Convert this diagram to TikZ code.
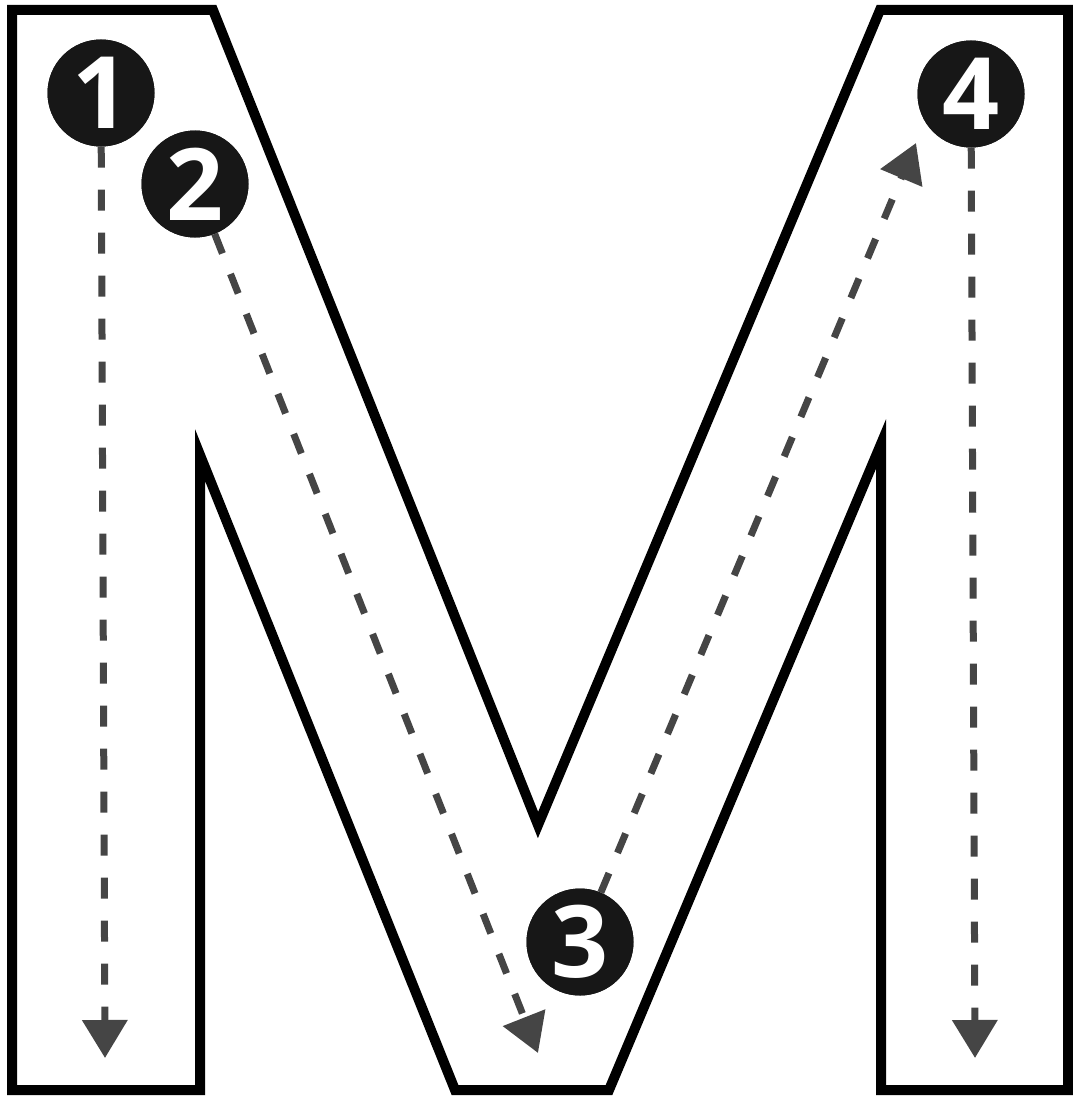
\documentclass[tikz,border=0pt]{standalone}
\usepackage{fontspec}
\newfontfamily\numfont{Open Sans}
\usetikzlibrary{arrows.meta}

\begin{document}
\begin{tikzpicture}[
    x=1pt, y=-1pt,
    letter/.style={line width=10pt, line join=miter, miter limit=10},
    badge/.style={circle, fill=black!91, minimum size=107pt, inner sep=0pt,
      text=white, font=\numfont\bfseries\fontsize{100}{100}\selectfont},
    route/.style={draw=black!73, line width=7pt, dash pattern=on 21pt off 22pt,
      -{Triangle[width=44pt, length=38pt]}}
  ]
    \useasboundingbox (0,0) rectangle (1072,1097);

    % the letter M
    \draw[letter] (12,10) -- (213,10) -- (538,825) -- (880,10) -- (1068,10)
      -- (1068,1090) -- (881,1090) -- (881,444) -- (609,1090) -- (455,1090)
      -- (200,455) -- (200,1090) -- (12,1090) -- cycle;

    % stroke order
    \node[badge] (n1) at (101,93) {1};
    \node[badge] (n2) at (195,184) {2};
    \node[badge] (n3) at (580,942) {3};
    \node[badge] (n4) at (971,94) {4};

    \coordinate (e1) at (105,1058);
    \coordinate (e2) at (538,1053);
    \coordinate (e3) at (916,143);
    \coordinate (e4) at (975,1058);

    \foreach \n in {1,...,4} {
      \draw[route] (n\n) -- (e\n);
    }
    \foreach \n in {1,...,4} {
      \node[badge] at (n\n) {\n};
    }
  \end{tikzpicture}
\end{document}
